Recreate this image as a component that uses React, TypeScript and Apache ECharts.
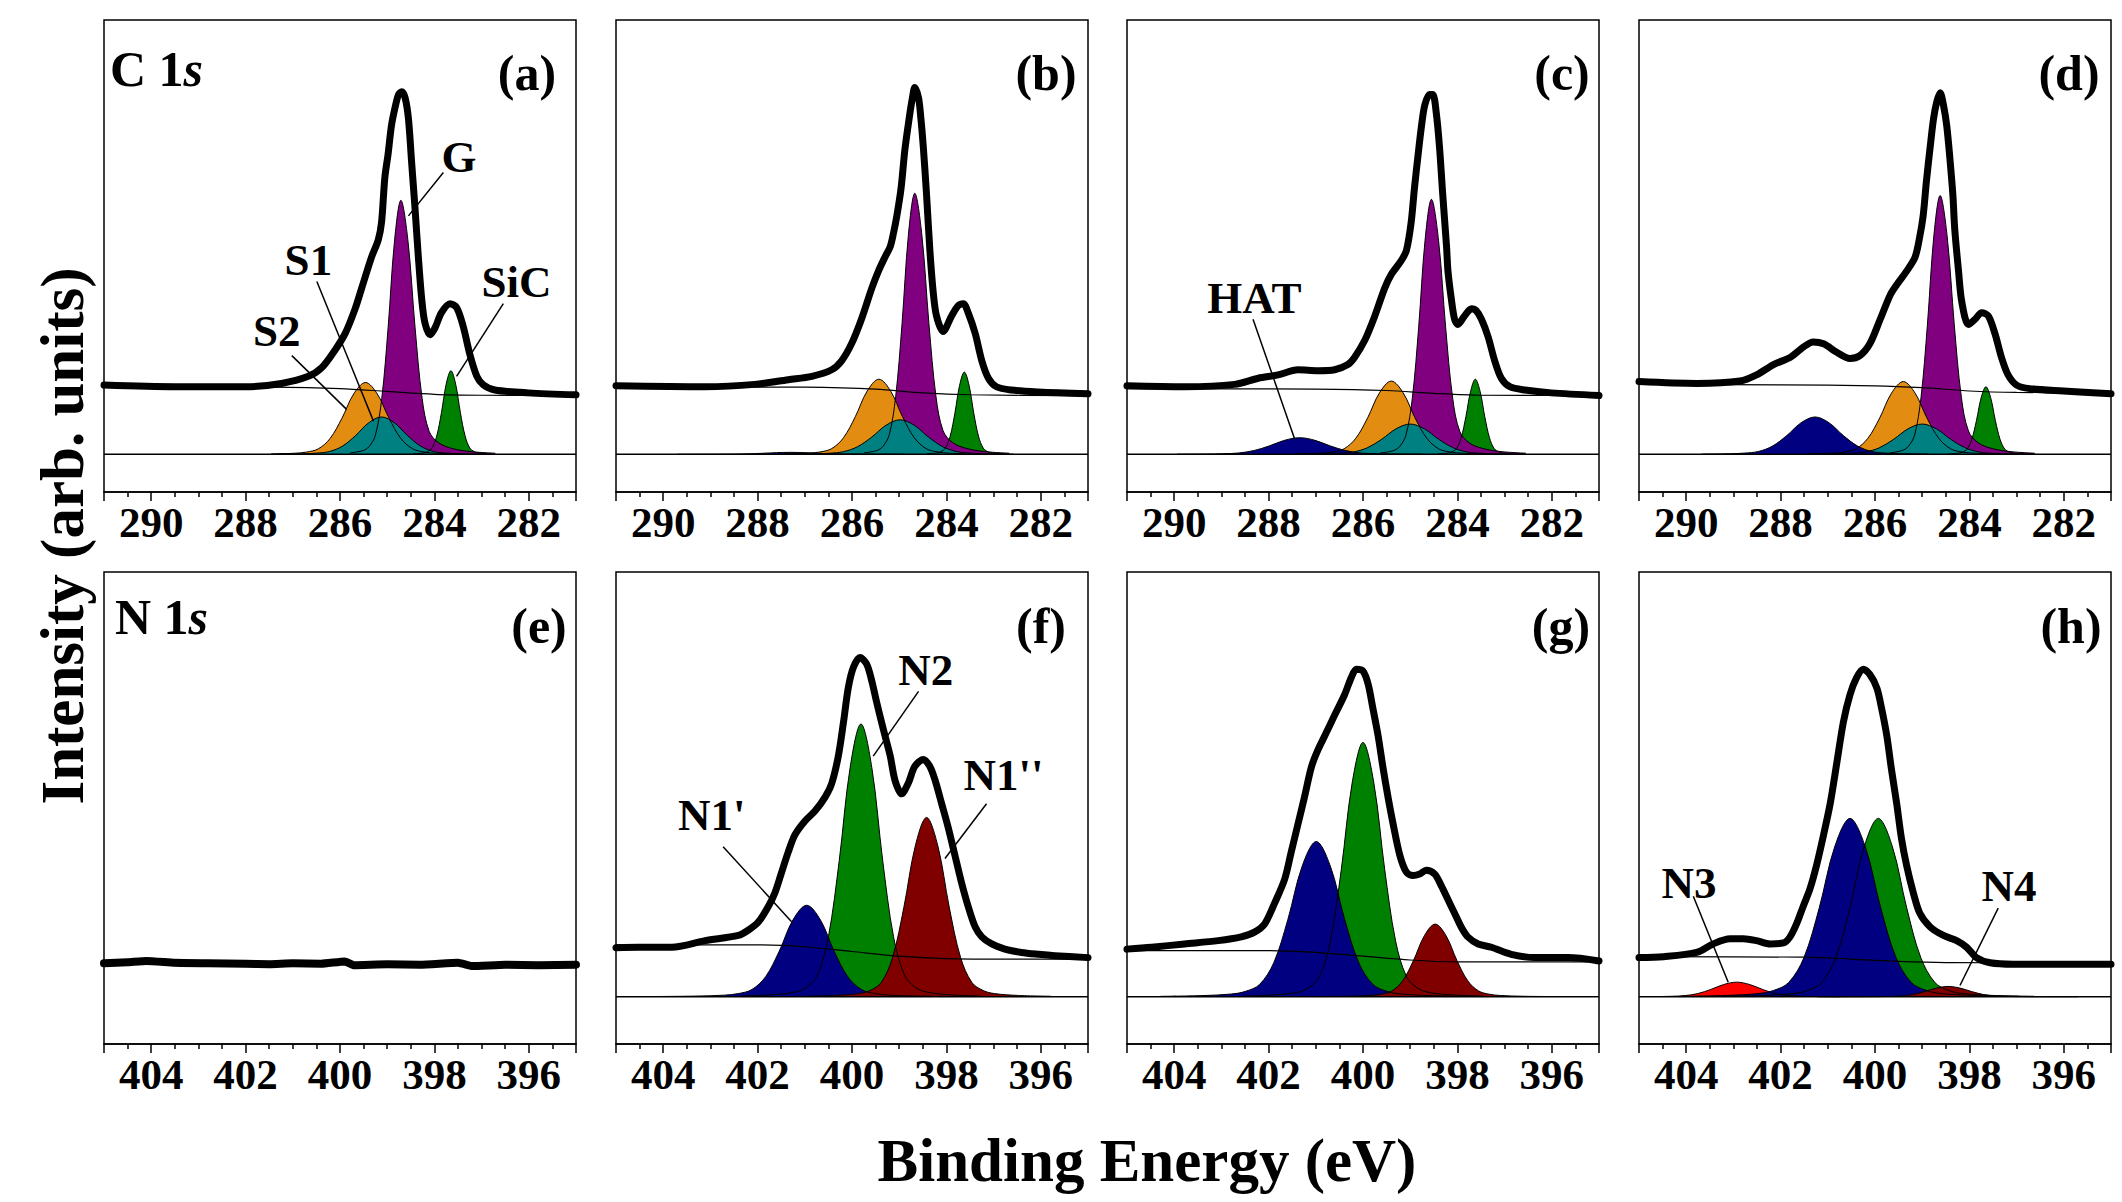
import React, { useEffect, useRef } from "react";
import * as echarts from "echarts";

type P = [number, number];

// ---------- axis ranges (binding energy, eV) ----------
const C_RANGE: P = [281, 291];
const N_RANGE: P = [395, 405];
const C_YRANGE: P = [-8, 92];
const N_YRANGE: P = [-10, 90];

// ---------- panel (a) ----------
const A_env: P[] = [[291.00,14.65],[289.50,14.3],[288.01,14.3],[287.24,15.0],[286.67,16.5],[286.39,18.3],[286.11,22.0],[285.89,25.6],[285.68,30.8],[285.54,35.2],[285.33,41.8],[285.19,45.4],[285.12,49.1],[285.05,58.6],[284.98,63.7],[284.91,69.6],[284.83,73.6],[284.76,76.2],[284.69,76.8],[284.62,75.5],[284.55,71.1],[284.48,61.5],[284.41,52.0],[284.34,41.8],[284.27,33.0],[284.20,27.8],[284.09,25.3],[283.99,26.7],[283.85,30.0],[283.67,31.9],[283.53,31.1],[283.39,27.1],[283.25,21.2],[283.10,16.5],[282.96,14.65],[282.72,13.6],[282.01,13.0],[281.00,12.6]];
const A_bg: P[] = [[291,14.3],[287.5,14.2],[286,13.9],[285,13.3],[284,12.7],[283,12.5],[281,12.4]];
const A_SiC: P[] = [[284.45,0.09],[284.25,0.25],[284.15,0.53],[284.05,1.33],[283.95,3.89],[283.85,8.85],[283.75,14.87],[283.65,17.7],[283.55,14.87],[283.45,8.85],[283.35,3.89],[283.25,1.33],[283.15,0.53],[283.05,0.25],[282.85,0.09]];
const A_G: P[] = [[285.79,0.27],[285.52,0.75],[285.385,1.61],[285.25,4.04],[285.115,11.84],[284.98,26.9],[284.845,45.19],[284.71,53.8],[284.56,45.19],[284.41,26.9],[284.26,11.84],[284.11,4.84],[283.91,2.42],[283.61,1.18],[283.21,0.54],[282.71,0.22]];
const A_S2: P[] = [[287.46,0.08],[286.96,0.21],[286.71,0.46],[286.46,1.14],[286.21,3.34],[285.96,7.6],[285.71,12.77],[285.46,15.2],[285.21,12.77],[284.96,7.6],[284.71,3.34],[284.46,1.14],[284.21,0.46],[283.96,0.21],[283.46,0.08]];
const A_S1: P[] = [[287.32,0.04],[286.77,0.11],[286.495,0.24],[286.22,0.59],[285.945,1.74],[285.67,3.95],[285.395,6.64],[285.12,7.9],[284.845,6.64],[284.57,3.95],[284.295,1.74],[284.02,0.59],[283.745,0.24],[283.47,0.11],[282.92,0.04]];

// ---------- panel (b) ----------
const B_env: P[] = [[291.00,14.5],[289.11,14.3],[288.06,14.8],[287.35,15.8],[286.85,16.5],[286.43,17.9],[286.22,19.8],[286.01,23.4],[285.80,28.6],[285.58,35.2],[285.44,38.8],[285.30,41.8],[285.19,44.0],[285.12,46.9],[285.05,50.5],[284.96,56.4],[284.88,64.5],[284.79,71.1],[284.72,75.5],[284.67,77.7],[284.59,75.5],[284.54,71.1],[284.49,65.2],[284.42,54.9],[284.35,43.2],[284.28,34.4],[284.21,29.3],[284.07,26.0],[283.89,29.3],[283.75,31.5],[283.64,31.9],[283.54,30.0],[283.39,25.6],[283.25,19.8],[283.11,16.1],[282.94,14.3],[282.62,13.6],[282.05,13.2],[281.00,12.8]];
const B_bg: P[] = [[291,14.3],[287,14.2],[285.5,13.8],[284.5,13.0],[283.5,12.6],[281,12.4]];
const B_HAT: P[] = [[289.7,0.0],[289.1,0.01],[288.8,0.02],[288.5,0.04],[288.2,0.09],[287.9,0.2],[287.6,0.34],[287.3,0.4],[287.0,0.34],[286.7,0.2],[286.4,0.09],[286.1,0.04],[285.8,0.02],[285.5,0.01],[284.9,0.0]];
const B_SiC: P[] = [[284.42,0.09],[284.22,0.24],[284.12,0.52],[284.02,1.31],[283.92,3.83],[283.82,8.7],[283.72,14.62],[283.62,17.4],[283.52,14.62],[283.42,8.7],[283.32,3.83],[283.22,1.31],[283.12,0.52],[283.02,0.24],[282.82,0.09]];
const B_G: P[] = [[285.75,0.28],[285.48,0.77],[285.345,1.66],[285.21,4.15],[285.075,12.17],[284.94,27.65],[284.805,46.45],[284.67,55.3],[284.52,46.45],[284.37,27.65],[284.22,12.17],[284.07,4.98],[283.87,2.49],[283.57,1.22],[283.17,0.55],[282.67,0.22]];
const B_S2: P[] = [[287.43,0.08],[286.93,0.22],[286.68,0.48],[286.43,1.19],[286.18,3.5],[285.93,7.95],[285.68,13.36],[285.43,15.9],[285.18,13.36],[284.93,7.95],[284.68,3.5],[284.43,1.19],[284.18,0.48],[283.93,0.22],[283.43,0.08]];
const B_S1: P[] = [[287.38,0.04],[286.78,0.1],[286.48,0.22],[286.18,0.55],[285.88,1.61],[285.58,3.65],[285.28,6.13],[284.98,7.3],[284.68,6.13],[284.38,3.65],[284.08,1.61],[283.78,0.55],[283.48,0.22],[283.18,0.1],[282.58,0.04]];

// ---------- panel (c) ----------
const C_env: P[] = [[291.00,14.5],[289.78,14.3],[288.72,14.8],[288.22,16.1],[287.80,16.8],[287.38,17.9],[286.95,17.7],[286.60,17.9],[286.32,19.0],[286.18,20.5],[285.96,24.2],[285.75,29.3],[285.54,35.2],[285.40,38.1],[285.19,41.0],[285.08,43.2],[284.98,49.1],[284.91,56.4],[284.83,63.7],[284.76,69.6],[284.69,74.0],[284.59,76.2],[284.52,76.2],[284.45,72.5],[284.38,65.2],[284.31,54.9],[284.23,44.0],[284.20,38.8],[284.13,33.0],[284.06,28.6],[283.99,27.5],[283.85,29.3],[283.70,30.8],[283.60,30.4],[283.49,28.6],[283.35,24.9],[283.21,19.8],[283.07,16.1],[282.89,14.3],[282.57,13.6],[282.01,13.0],[281.00,12.45]];
const C_bg: P[] = [[291,13.9],[287,13.8],[285.5,13.5],[284.5,12.9],[283.5,12.5],[281,12.45]];
const C_HAT: P[] = [[289.94,0.02],[289.29,0.05],[288.965,0.11],[288.64,0.26],[288.315,0.77],[287.99,1.75],[287.665,2.94],[287.34,3.5],[287.015,2.94],[286.69,1.75],[286.365,0.77],[286.04,0.26],[285.715,0.11],[285.39,0.05],[284.74,0.02]];
const C_S2: P[] = [[287.40,0.08],[286.90,0.22],[286.65,0.47],[286.40,1.16],[286.15,3.41],[285.90,7.75],[285.65,13.02],[285.40,15.5],[285.15,13.02],[284.90,7.75],[284.65,3.41],[284.40,1.16],[284.15,0.47],[283.90,0.22],[283.40,0.08]];
const C_S1: P[] = [[287.4,0.03],[286.8,0.09],[286.5,0.19],[286.2,0.48],[285.9,1.41],[285.6,3.2],[285.3,5.38],[285.0,6.4],[284.7,5.38],[284.4,3.2],[284.1,1.41],[283.8,0.48],[283.5,0.19],[283.2,0.09],[282.6,0.03]];
const C_G: P[] = [[285.63,0.27],[285.36,0.76],[285.225,1.62],[285.09,4.05],[284.955,11.88],[284.82,27.0],[284.685,45.36],[284.55,54.0],[284.40,45.36],[284.25,27.0],[284.10,11.88],[283.95,4.86],[283.75,2.43],[283.45,1.19],[283.05,0.54],[282.55,0.22]];
const C_SiC: P[] = [[284.42,0.08],[284.22,0.22],[284.12,0.48],[284.02,1.19],[283.92,3.5],[283.82,7.95],[283.72,13.36],[283.62,15.9],[283.52,13.36],[283.42,7.95],[283.32,3.5],[283.22,1.19],[283.12,0.48],[283.02,0.22],[282.82,0.08]];

// ---------- panel (d) ----------
const D_env: P[] = [[291.00,15.4],[289.78,15.0],[288.86,15.5],[288.51,16.8],[288.15,19.0],[287.80,20.5],[287.52,22.7],[287.31,23.8],[287.09,23.4],[286.81,21.6],[286.53,20.3],[286.32,20.9],[286.11,23.4],[285.89,28.6],[285.68,33.7],[285.54,35.9],[285.33,38.8],[285.15,41.8],[285.05,46.2],[284.98,50.5],[284.91,57.9],[284.83,65.2],[284.76,71.1],[284.69,74.7],[284.62,76.6],[284.55,74.0],[284.48,69.6],[284.41,62.3],[284.35,54.9],[284.31,47.6],[284.23,38.8],[284.16,32.2],[284.02,27.5],[283.88,28.6],[283.74,30.0],[283.60,29.3],[283.46,25.6],[283.32,20.5],[283.18,16.8],[283.00,14.65],[282.72,13.9],[282.01,13.4],[281.00,12.8]];
const D_bg: P[] = [[291,14.8],[288,14.7],[286,14.5],[285,14.1],[284,13.4],[283,13.1],[281,13.0]];
const D_HAT: P[] = [[289.67,0.04],[289.07,0.11],[288.77,0.24],[288.47,0.59],[288.17,1.74],[287.87,3.95],[287.57,6.64],[287.27,7.9],[286.97,6.64],[286.67,3.95],[286.37,1.74],[286.07,0.59],[285.77,0.24],[285.47,0.11],[284.87,0.04]];
const D_S2: P[] = [[287.40,0.08],[286.90,0.22],[286.65,0.46],[286.40,1.16],[286.15,3.39],[285.90,7.7],[285.65,12.94],[285.40,15.4],[285.15,12.94],[284.90,7.7],[284.65,3.39],[284.40,1.16],[284.15,0.46],[283.90,0.22],[283.40,0.08]];
const D_S1: P[] = [[287.4,0.03],[286.8,0.09],[286.5,0.19],[286.2,0.48],[285.9,1.41],[285.6,3.2],[285.3,5.38],[285.0,6.4],[284.7,5.38],[284.4,3.2],[284.1,1.41],[283.8,0.48],[283.5,0.19],[283.2,0.09],[282.6,0.03]];
const D_G: P[] = [[285.70,0.27],[285.43,0.77],[285.295,1.64],[285.16,4.11],[285.025,12.06],[284.89,27.4],[284.755,46.03],[284.62,54.8],[284.47,46.03],[284.32,27.4],[284.17,12.06],[284.02,4.93],[283.82,2.47],[283.52,1.21],[283.12,0.55],[282.62,0.22]];
const D_SiC: P[] = [[284.45,0.07],[284.25,0.2],[284.15,0.43],[284.05,1.07],[283.95,3.15],[283.85,7.15],[283.75,12.01],[283.65,14.3],[283.55,12.01],[283.45,7.15],[283.35,3.15],[283.25,1.07],[283.15,0.43],[283.05,0.2],[282.85,0.07]];

// ---------- panel (e) ----------
const E_env: P[] = [[405,7.1],[404.5,7.3],[404.1,7.6],[403.5,7.2],[402.8,7.1],[402,7.0],[401.5,6.9],[401,7.1],[400.4,7.0],[399.9,7.5],[399.7,6.7],[399,6.9],[398.3,6.8],[397.5,7.2],[397.2,6.5],[396.5,6.8],[395.8,6.7],[395,6.8]];

// ---------- panel (f) ----------
const F_env: P[] = [[405.00,10.4],[404.53,10.5],[403.82,10.5],[403.11,11.9],[402.41,13.0],[402.20,14.1],[401.98,15.9],[401.77,19.2],[401.63,22.1],[401.49,26.4],[401.35,30.7],[401.21,34.3],[401.00,37.2],[400.78,39.4],[400.57,42.3],[400.43,45.2],[400.29,51.0],[400.18,58.2],[400.08,65.4],[399.97,69.8],[399.83,71.9],[399.69,70.5],[399.58,66.9],[399.48,62.5],[399.34,56.8],[399.19,51.0],[399.09,45.9],[398.95,43.0],[398.81,45.2],[398.67,48.8],[398.49,50.3],[398.35,48.8],[398.24,45.9],[398.10,40.9],[397.96,35.8],[397.82,30.0],[397.68,24.2],[397.54,19.2],[397.39,14.8],[397.25,12.7],[397.04,11.2],[396.76,10.1],[396.41,9.4],[396.05,9.0],[395.70,8.7],[395.00,8.3]];
const F_bg: P[] = [[405,11.0],[402,11.0],[401,10.6],[400,9.6],[399,8.6],[398,8.1],[397,8.0],[395,8.0]];
const F_N2: P[] = [[402.34,0.17],[401.65,0.46],[401.19,1.04],[400.96,2.02],[400.73,4.62],[400.50,12.72],[400.27,28.9],[400.04,48.55],[399.81,57.8],[399.58,48.55],[399.35,28.9],[399.12,12.72],[398.89,4.62],[398.66,2.02],[398.43,1.04],[397.97,0.46],[397.28,0.17]];
const F_N1p: P[] = [[404.15,0.06],[403.28,0.16],[402.70,0.35],[402.41,0.68],[402.12,1.55],[401.83,4.27],[401.54,9.7],[401.25,16.3],[400.96,19.4],[400.67,16.3],[400.38,9.7],[400.09,4.27],[399.80,1.55],[399.51,0.68],[399.22,0.35],[398.64,0.16],[397.77,0.06]];
const F_N1pp: P[] = [[401.06,0.11],[400.34,0.3],[399.86,0.68],[399.62,1.33],[399.38,3.04],[399.14,8.36],[398.90,19.0],[398.66,31.92],[398.42,38.0],[398.18,31.92],[397.94,19.0],[397.70,8.36],[397.46,3.04],[397.22,1.33],[396.98,0.68],[396.50,0.3],[395.78,0.11]];

// ---------- panel (g) ----------
const G_env: P[] = [[405.00,10.1],[404.48,10.5],[403.78,11.2],[403.07,11.9],[402.58,12.7],[402.30,13.7],[402.08,15.5],[401.87,19.9],[401.66,24.9],[401.52,30.7],[401.38,36.5],[401.24,42.3],[401.09,48.8],[400.95,52.4],[400.81,55.3],[400.60,59.7],[400.39,64.0],[400.25,67.6],[400.14,69.4],[400.00,69.0],[399.89,66.2],[399.79,61.1],[399.68,55.3],[399.58,48.8],[399.47,42.3],[399.36,36.5],[399.22,30.0],[399.08,26.4],[398.94,25.7],[398.80,26.0],[398.66,26.8],[398.48,26.0],[398.34,23.5],[398.20,20.6],[398.06,17.7],[397.92,14.8],[397.78,12.7],[397.56,11.2],[397.28,10.5],[396.86,9.0],[396.36,8.3],[395.66,8.3],[395.00,7.6]];
const G_bg: P[] = [[405,9.8],[402,9.8],[401,9.4],[400,8.6],[399,7.8],[398,7.4],[395,7.4]];
const G_N2: P[] = [[402.53,0.16],[401.84,0.43],[401.38,0.97],[401.15,1.89],[400.92,4.31],[400.69,11.86],[400.46,26.95],[400.23,45.28],[400.0,53.9],[399.77,45.28],[399.54,26.95],[399.31,11.86],[399.08,4.31],[398.85,1.89],[398.62,0.97],[398.16,0.43],[397.47,0.16]];
const G_N1p: P[] = [[404.29,0.1],[403.39,0.26],[402.79,0.59],[402.49,1.15],[402.19,2.63],[401.89,7.24],[401.59,16.45],[401.29,27.64],[400.99,32.9],[400.69,27.64],[400.39,16.45],[400.09,7.24],[399.79,2.63],[399.49,1.15],[399.19,0.59],[398.59,0.26],[397.69,0.1]];
const G_N1pp: P[] = [[401.0,0.05],[400.31,0.12],[399.85,0.28],[399.62,0.54],[399.39,1.23],[399.16,3.39],[398.93,7.7],[398.70,12.94],[398.47,15.4],[398.24,12.94],[398.01,7.7],[397.78,3.39],[397.55,1.23],[397.32,0.54],[397.09,0.28],[396.63,0.12],[395.94,0.05]];

// ---------- panel (h) ----------
const H_env: P[] = [[405.00,8.3],[404.48,8.5],[403.78,9.4],[403.43,11.2],[403.07,12.3],[402.79,12.3],[402.51,11.9],[402.22,11.2],[401.94,11.4],[401.80,12.7],[401.66,15.5],[401.52,19.2],[401.38,22.8],[401.24,27.8],[401.09,34.3],[400.95,40.9],[400.81,49.5],[400.67,58.2],[400.53,64.0],[400.39,67.6],[400.25,69.4],[400.11,68.3],[399.96,65.4],[399.86,61.1],[399.75,55.3],[399.65,48.1],[399.54,40.9],[399.44,33.6],[399.33,27.8],[399.19,22.1],[399.05,17.7],[398.83,14.8],[398.55,13.0],[398.27,11.9],[398.06,10.5],[397.85,8.3],[397.56,7.2],[397.07,6.9],[396.36,6.9],[395.66,6.9],[395.00,6.9]];
const H_bg: P[] = [[405,8.5],[401.5,8.4],[400.5,8.0],[399.5,7.5],[398.5,7.25],[395,7.2]];
const H_N3: P[] = [[404.58,0.06],[404.305,0.11],[404.03,0.25],[403.755,0.68],[403.48,1.55],[403.205,2.6],[402.93,3.1],[402.655,2.6],[402.38,1.55],[402.105,0.68],[401.83,0.25],[401.555,0.11],[401.28,0.06],[400.73,0.02]];
const H_N2: P[] = [[403.23,0.11],[402.33,0.3],[401.73,0.68],[401.43,1.32],[401.13,3.02],[400.83,8.32],[400.53,18.9],[400.23,31.75],[399.93,37.8],[399.63,31.75],[399.33,18.9],[399.03,8.32],[398.73,3.02],[398.43,1.32],[398.13,0.68],[397.53,0.3],[396.63,0.11]];
const H_N1p: P[] = [[404.11,0.11],[403.13,0.3],[402.48,0.68],[402.155,1.32],[401.83,3.02],[401.505,8.32],[401.18,18.9],[400.855,31.75],[400.53,37.8],[400.205,31.75],[399.88,18.9],[399.555,8.32],[399.23,3.02],[398.905,1.32],[398.58,0.68],[397.93,0.3],[396.955,0.11]];
const H_N4: P[] = [[401.2,0.01],[400.45,0.02],[399.95,0.04],[399.7,0.08],[399.45,0.18],[399.2,0.48],[398.95,1.1],[398.7,1.85],[398.45,2.2],[398.2,1.85],[397.95,1.1],[397.7,0.48],[397.45,0.18],[397.2,0.08],[396.95,0.04],[396.45,0.02],[395.7,0.01]];

// ---------- annotation labels (data coordinates) ----------
type Ann = { text: string; at: P; from: P; to: P };
const A_ann: Ann[] = [
  { text: "S2", at: [287.34, 26.2], from: [287.02, 20.9], to: [285.86, 9.5] },
  { text: "S1", at: [286.67, 41.2], from: [286.49, 36.6], to: [285.29, 7.0] },
  { text: "G", at: [283.48, 63.0], from: [283.81, 59.7], to: [284.55, 50.5] },
  { text: "SiC", at: [282.26, 36.5], from: [282.54, 31.9], to: [283.53, 16.5] },
];
const C_ann: Ann[] = [{ text: "HAT", at: [288.30, 33.0], from: [288.33, 28.6], to: [287.45, 3.3] }];
const F_ann: Ann[] = [
  { text: "N1'", at: [402.97, 38.5], from: [402.73, 31.8], to: [401.28, 15.9] },
  { text: "N2", at: [398.44, 69.3], from: [398.59, 64.7], to: [399.55, 51.0] },
  { text: "N1''", at: [396.79, 47.0], from: [397.15, 40.9], to: [398.03, 29.3] },
];
const H_ann: Ann[] = [
  { text: "N3", at: [403.94, 24.1], from: [403.85, 21.3], to: [403.11, 3.1] },
  { text: "N4", at: [397.16, 23.4], from: [397.39, 18.8], to: [398.20, 2.4] },
];

const COL = {
  HAT: "#000080", S2: "#E38C12", S1: "#008080", G: "#800080", SiC: "#008000",
  N1p: "#000080", N2: "#008000", N1pp: "#800000", N3: "#FF0000", N4: "#800000",
};

type Comp = { data: P[]; color: string };
type Panel = {
  letter: string; core: string | null; isC: boolean;
  env: P[]; bg: P[] | null; comps: Comp[]; anns: Ann[]; letterPos: P;
};

const PANELS: Panel[] = [
  { letter: "(a)", core: "C 1", isC: true, env: A_env, bg: A_bg, anns: A_ann, letterPos: [527, 73],
    comps: [{ data: A_SiC, color: COL.SiC }, { data: A_G, color: COL.G }, { data: A_S2, color: COL.S2 }, { data: A_S1, color: COL.S1 }] },
  { letter: "(b)", core: null, isC: true, env: B_env, bg: B_bg, anns: [], letterPos: [1046, 73],
    comps: [{ data: B_SiC, color: COL.SiC }, { data: B_G, color: COL.G }, { data: B_S2, color: COL.S2 }, { data: B_S1, color: COL.S1 }, { data: B_HAT, color: COL.HAT }] },
  { letter: "(c)", core: null, isC: true, env: C_env, bg: C_bg, anns: C_ann, letterPos: [1562, 73],
    comps: [{ data: C_SiC, color: COL.SiC }, { data: C_G, color: COL.G }, { data: C_S2, color: COL.S2 }, { data: C_S1, color: COL.S1 }, { data: C_HAT, color: COL.HAT }] },
  { letter: "(d)", core: null, isC: true, env: D_env, bg: D_bg, anns: [], letterPos: [2069, 73],
    comps: [{ data: D_SiC, color: COL.SiC }, { data: D_G, color: COL.G }, { data: D_S2, color: COL.S2 }, { data: D_S1, color: COL.S1 }, { data: D_HAT, color: COL.HAT }] },
  { letter: "(e)", core: "N 1", isC: false, env: E_env, bg: null, anns: [], letterPos: [539, 626], comps: [] },
  { letter: "(f)", core: null, isC: false, env: F_env, bg: F_bg, anns: F_ann, letterPos: [1041, 626],
    comps: [{ data: F_N2, color: COL.N2 }, { data: F_N1p, color: COL.N1p }, { data: F_N1pp, color: COL.N1pp }] },
  { letter: "(g)", core: null, isC: false, env: G_env, bg: G_bg, anns: [], letterPos: [1561, 626],
    comps: [{ data: G_N2, color: COL.N2 }, { data: G_N1p, color: COL.N1p }, { data: G_N1pp, color: COL.N1pp }] },
  { letter: "(h)", core: null, isC: false, env: H_env, bg: H_bg, anns: H_ann, letterPos: [2071, 626],
    comps: [{ data: H_N3, color: COL.N3 }, { data: H_N2, color: COL.N2 }, { data: H_N1p, color: COL.N1p }, { data: H_N4, color: COL.N4 }] },
];

const FONT = '"Liberation Serif", "Times New Roman", Times, serif';
const COL_LEFT = [104, 616, 1127, 1639];
const ROW_TOP = [20, 572];
const PW = 472;
const PH = 472;

function baseGraphics(): any[] {
  const g: any[] = [];
  PANELS.forEach((p, i) => {
    const row = i < 4 ? 0 : 1;
    g.push({
      type: "text", x: p.letterPos[0], y: p.letterPos[1], silent: true,
      style: { text: p.letter, fill: "#000", font: `bold 50px ${FONT}`, align: "center", verticalAlign: "middle" },
    });
    if (p.core) {
      g.push({
        type: "text", x: row === 0 ? 110 : 115, y: row === 0 ? 69 : 617, silent: true,
        style: {
          text: `{n|${p.core}}{i|s}`, fill: "#000", align: "left", verticalAlign: "middle",
          rich: {
            n: { fontFamily: FONT, fontWeight: "bold", fontSize: 50, fill: "#000" },
            i: { fontFamily: FONT, fontWeight: "bold", fontStyle: "italic", fontSize: 50, fill: "#000" },
          },
        },
      });
    }
  });
  g.push({
    type: "text", x: 62, y: 536, rotation: Math.PI / 2, silent: true,
    style: { text: "Intensity (arb. units)", fill: "#000", font: `bold 61px ${FONT}`, align: "center", verticalAlign: "middle" },
  });
  g.push({
    type: "text", x: 1147, y: 1160, silent: true,
    style: { text: "Binding Energy (eV)", fill: "#000", font: `bold 61px ${FONT}`, align: "center", verticalAlign: "middle" },
  });
  return g;
}

function buildOption() {
  const grid: any[] = [];
  const xAxis: any[] = [];
  const yAxis: any[] = [];
  const series: any[] = [];

  PANELS.forEach((p, i) => {
    const row = i < 4 ? 0 : 1;
    const col = i % 4;
    const xr = p.isC ? C_RANGE : N_RANGE;
    const yr = p.isC ? C_YRANGE : N_YRANGE;
    grid.push({ left: COL_LEFT[col], top: ROW_TOP[row], width: PW, height: PH, show: true, borderColor: "#000", borderWidth: 1.5, backgroundColor: "transparent", containLabel: false });
    xAxis.push({
      type: "value", gridIndex: i, min: xr[0], max: xr[1], inverse: true,
      axisLine: { show: true, onZero: false, lineStyle: { color: "#000", width: 1.5 } },
      axisTick: { show: true, length: 9, lineStyle: { color: "#000", width: 1.5 } },
      minorTick: { show: true, splitNumber: 4, length: 5, lineStyle: { color: "#000", width: 1.5 } },
      axisLabel: { show: true, color: "#000", fontFamily: FONT, fontWeight: "bold", fontSize: 43, margin: 9, showMinLabel: false, showMaxLabel: false },
      splitLine: { show: false }, minorSplitLine: { show: false },
    });
    yAxis.push({ type: "value", gridIndex: i, min: yr[0], max: yr[1], show: false, splitLine: { show: false } });

    const base = { xAxisIndex: i, yAxisIndex: i, silent: true, animation: false };
    p.comps.forEach((c) => {
      series.push({
        ...base, type: "line", data: c.data, smooth: 0.35, symbol: "none",
        lineStyle: { color: "#000", width: 1 },
        areaStyle: { color: c.color, opacity: 1 },
      });
    });
    if (p.comps.length) {
      const s: any = { ...base, type: "line", data: [[xr[0], 0], [xr[1], 0]], symbol: "none", lineStyle: { color: "#000", width: 1.5 } };
      if (p.anns.length) {
        s.markLine = {
          silent: true, animation: false, symbol: ["none", "none"],
          lineStyle: { color: "#000", width: 1.5, type: "solid", opacity: 1 }, label: { show: false },
          emphasis: { disabled: true },
          data: p.anns.map((a) => [{ coord: a.from }, { coord: a.to }]),
        };
      }
      series.push(s);
    }
    if (p.bg) {
      series.push({ ...base, type: "line", data: p.bg, smooth: 0.3, symbol: "none", lineStyle: { color: "#000", width: 1.2 } });
    }
    series.push({
      ...base, type: "line", data: p.env, smooth: p.comps.length ? 0.3 : 0.15, symbol: "none",
      lineStyle: { color: "#000", width: p.comps.length ? 7 : 8, cap: "round", join: "round" },
    });
  });

  return {
    animation: false,
    backgroundColor: "#fff",
    textStyle: { fontFamily: FONT },
    grid, xAxis, yAxis, series,
    graphic: baseGraphics(),
  };
}

export default function App() {
  const ref = useRef<HTMLDivElement>(null);
  useEffect(() => {
    if (!ref.current) return;
    document.body.style.margin = "0";
    const chart = echarts.init(ref.current, undefined, { renderer: "svg", width: 2122, height: 1202 });
    chart.setOption(buildOption() as any);
    // annotation texts placed through the panels' own scales
    const annTexts: any[] = [];
    PANELS.forEach((p, i) => {
      p.anns.forEach((a) => {
        const px = chart.convertToPixel({ gridIndex: i } as any, a.at) as any;
        if (!px) return;
        annTexts.push({
          type: "text", x: px[0], y: px[1], silent: true,
          style: { text: a.text, fill: "#000", font: `bold 45px ${FONT}`, align: "center", verticalAlign: "middle" },
        });
      });
    });
    chart.setOption({ graphic: [...baseGraphics(), ...annTexts] } as any);
    return () => chart.dispose();
  }, []);
  return <div ref={ref} style={{ position: "fixed", left: 0, top: 0, width: 2122, height: 1202, background: "#fff" }} />;
}
